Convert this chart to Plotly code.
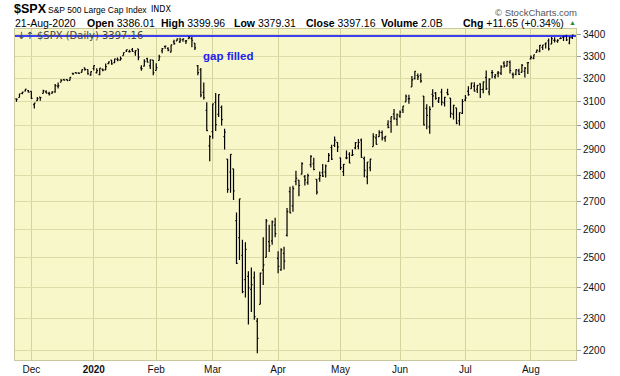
import pandas as pd
import plotly.graph_objects as go

# ---- data: S&P 500 daily OHLC, 22-Nov-2019 .. 21-Aug-2020 ----
holidays = ["2019-11-28", "2019-12-25", "2020-01-01", "2020-01-20",
            "2020-02-17", "2020-04-10", "2020-05-25", "2020-07-03"]
days = pd.bdate_range("2019-11-22", "2020-08-21")
dates = [d.strftime("%Y-%m-%d") for d in days if d.strftime("%Y-%m-%d") not in holidays]

opens = [
    3111.41, 3117.44, 3134.85, 3145.49, 3147.18,
    3143.85, 3087.41, 3103.50, 3119.21, 3134.62, 3141.86, 3135.36, 3135.75, 3141.23, 3166.65, 3183.63,
    3195.40, 3195.21, 3192.32, 3223.33, 3226.05, 3225.45, 3227.20, 3247.23, 3240.09, 3215.18,
    3244.67, 3226.36, 3217.55, 3241.86, 3238.59, 3266.03, 3281.81, 3271.13, 3285.35, 3282.27, 3302.97,
    3323.66, 3321.03, 3330.02, 3315.77, 3333.10, 3247.16, 3255.35, 3289.46, 3256.45, 3282.33,
    3235.66, 3280.61, 3324.91, 3344.92, 3335.54, 3318.28, 3365.87, 3370.50, 3365.90, 3378.08, 3369.04,
    3380.39, 3380.45, 3360.50, 3257.61, 3238.94, 3139.90, 3062.54, 2916.90,
    2974.28, 3096.46, 3045.75, 3075.70, 2954.20, 2863.89, 2813.48, 2825.60, 2630.86, 2569.99, 2508.59,
    2425.66, 2436.50, 2393.48, 2431.94, 2290.71, 2344.44, 2457.77, 2501.29, 2555.87, 2558.98, 2614.69,
    2498.08, 2458.54, 2514.92, 2578.28, 2738.65, 2685.00, 2776.99, 2782.46, 2805.10, 2795.64, 2772.21,
    2842.43, 2845.62, 2784.81, 2787.89, 2810.42, 2812.64, 2854.65, 2909.96, 2918.46, 2930.91,
    2869.09, 2815.01, 2868.88, 2883.14, 2878.26, 2908.83, 2915.46, 2939.50, 2865.86, 2794.54, 2829.95,
    2913.86, 2948.59, 2953.63, 2969.95, 2948.05, 3004.08, 3015.65, 3046.61, 3025.17,
    3038.78, 3064.78, 3098.90, 3111.56, 3163.84, 3199.92, 3213.32, 3213.42, 3123.53, 3071.04, 2993.76,
    3131.00, 3136.13, 3101.64, 3140.29, 3094.42, 3138.70, 3114.40, 3046.60, 3073.20, 3018.59, 3050.20,
    3105.92, 3143.64, 3155.29, 3166.44, 3153.07, 3176.17, 3152.47, 3205.08, 3141.11, 3225.98, 3208.36,
    3224.21, 3224.29, 3268.52, 3254.86, 3271.64, 3218.58, 3219.84, 3234.27, 3227.22, 3231.76, 3270.45,
    3288.26, 3289.92, 3317.37, 3323.17, 3340.05, 3356.04, 3370.34, 3355.46, 3372.95, 3368.66, 3380.86,
    3387.04, 3392.51, 3360.48, 3386.01,
]
highs = [
    3112.87, 3133.83, 3142.69, 3154.26, 3150.30,
    3144.31, 3094.97, 3119.38, 3119.45, 3150.60, 3148.87, 3142.12, 3143.98, 3176.28, 3182.68, 3197.71,
    3198.22, 3198.48, 3205.48, 3225.65, 3227.78, 3226.43, 3240.08, 3247.93, 3240.92, 3231.72,
    3258.14, 3246.15, 3246.84, 3244.91, 3267.07, 3275.58, 3282.99, 3288.13, 3294.25, 3298.66, 3317.11,
    3329.88, 3329.79, 3337.77, 3326.88, 3333.18, 3258.85, 3285.78, 3293.47, 3285.91, 3282.33,
    3268.44, 3306.92, 3337.58, 3347.96, 3341.42, 3352.26, 3375.63, 3381.47, 3385.09, 3380.69, 3375.01,
    3393.52, 3389.15, 3360.76, 3259.81, 3246.99, 3182.51, 3097.07, 2959.72,
    3090.96, 3136.72, 3130.97, 3083.04, 2985.93, 2863.89, 2882.59, 2825.60, 2660.95, 2711.33, 2562.98,
    2553.93, 2453.57, 2466.97, 2453.01, 2300.73, 2449.71, 2571.42, 2637.01, 2615.91, 2631.80, 2641.39,
    2522.75, 2533.22, 2538.18, 2676.85, 2756.89, 2760.75, 2818.57, 2782.46, 2851.85, 2801.88, 2806.51,
    2879.22, 2868.98, 2785.54, 2815.10, 2844.90, 2842.71, 2887.72, 2921.15, 2954.86, 2930.91,
    2869.09, 2844.24, 2898.23, 2891.11, 2901.92, 2932.16, 2944.25, 2945.82, 2874.14, 2852.80, 2865.01,
    2968.09, 2964.21, 2980.29, 2978.50, 2956.76, 3021.72, 3036.25, 3068.67, 3049.17,
    3062.18, 3081.07, 3130.94, 3128.91, 3211.72, 3233.13, 3222.71, 3223.27, 3123.53, 3088.42, 3079.76,
    3153.45, 3141.16, 3120.00, 3155.53, 3120.92, 3154.90, 3115.01, 3086.25, 3073.73, 3053.89, 3111.51,
    3128.44, 3165.81, 3182.59, 3184.15, 3171.80, 3179.78, 3186.82, 3235.32, 3200.95, 3238.28, 3220.39,
    3233.52, 3258.61, 3277.29, 3279.32, 3279.99, 3227.26, 3241.43, 3243.72, 3264.74, 3250.92, 3272.17,
    3302.73, 3306.84, 3330.77, 3351.03, 3352.54, 3363.29, 3381.01, 3387.89, 3387.24, 3378.51, 3387.59,
    3395.06, 3399.54, 3390.80, 3399.96,
]
lows = [
    3099.26, 3117.44, 3131.00, 3143.41, 3139.34,
    3110.78, 3070.33, 3102.53, 3103.76, 3134.62, 3135.46, 3126.09, 3133.21, 3138.47, 3156.51, 3183.63,
    3191.03, 3191.14, 3191.72, 3216.03, 3222.30, 3220.51, 3227.20, 3234.37, 3216.57, 3212.03,
    3235.53, 3222.34, 3214.64, 3232.43, 3236.67, 3263.67, 3260.86, 3268.43, 3277.19, 3280.69, 3302.82,
    3318.86, 3316.61, 3320.04, 3301.87, 3281.53, 3234.50, 3253.22, 3271.89, 3242.80, 3214.68,
    3235.66, 3280.61, 3313.75, 3334.39, 3322.12, 3317.77, 3352.72, 3369.72, 3360.52, 3366.15, 3355.61,
    3378.83, 3341.02, 3328.45, 3214.65, 3118.77, 3108.99, 2977.39, 2855.84,
    2945.19, 2976.63, 3034.38, 2999.83, 2901.54, 2734.43, 2734.00, 2707.22, 2478.86, 2492.37, 2380.94,
    2367.04, 2280.52, 2319.78, 2295.56, 2191.86, 2344.44, 2407.53, 2500.72, 2520.02, 2545.28, 2571.15,
    2447.49, 2455.79, 2459.96, 2574.57, 2657.67, 2663.30, 2762.36, 2721.17, 2805.10, 2761.54, 2764.32,
    2830.88, 2820.43, 2727.10, 2775.95, 2794.26, 2791.76, 2852.89, 2860.71, 2912.16, 2892.47,
    2821.61, 2797.85, 2863.55, 2847.65, 2876.48, 2902.88, 2903.44, 2869.59, 2793.15, 2766.64, 2816.78,
    2913.86, 2922.35, 2953.63, 2938.57, 2933.59, 2988.17, 2969.75, 3023.40, 2998.61,
    3031.54, 3051.64, 3098.90, 3090.41, 3163.84, 3196.00, 3193.11, 3181.49, 2999.49, 2984.47, 2965.66,
    3076.06, 3108.03, 3093.51, 3083.11, 3079.39, 3127.12, 3032.13, 3024.01, 3004.63, 2999.74, 3047.83,
    3101.17, 3124.52, 3155.29, 3142.93, 3136.53, 3115.70, 3136.22, 3149.43, 3127.66, 3200.76, 3198.59,
    3205.65, 3215.16, 3247.77, 3253.10, 3222.66, 3200.05, 3214.25, 3216.17, 3227.22, 3204.13, 3220.26,
    3284.53, 3286.37, 3317.37, 3318.14, 3328.72, 3335.44, 3326.44, 3355.46, 3363.35, 3361.64, 3379.22,
    3370.15, 3369.66, 3354.69, 3379.31,
]
closes = [
    3110.29, 3133.64, 3140.52, 3153.63, 3140.98,
    3113.87, 3093.20, 3112.76, 3117.43, 3145.91, 3135.96, 3132.52, 3141.63, 3168.57, 3168.80, 3191.45,
    3192.52, 3191.14, 3205.37, 3221.22, 3224.01, 3223.38, 3239.91, 3240.02, 3221.29, 3230.78,
    3257.85, 3234.85, 3246.28, 3237.18, 3253.05, 3274.70, 3265.35, 3288.13, 3283.15, 3289.29, 3316.81,
    3329.62, 3320.79, 3321.75, 3325.54, 3295.47, 3243.63, 3276.24, 3273.40, 3283.66, 3225.52,
    3248.92, 3297.59, 3334.69, 3345.78, 3327.71, 3352.09, 3357.75, 3379.45, 3373.94, 3380.16, 3370.29,
    3386.15, 3373.23, 3337.75, 3225.89, 3128.21, 3116.39, 2978.76, 2954.22,
    3090.23, 3003.37, 3130.12, 3023.94, 2972.37, 2746.56, 2882.23, 2741.38, 2480.64, 2711.02, 2386.13,
    2529.19, 2398.10, 2409.39, 2304.92, 2237.40, 2447.33, 2475.56, 2630.07, 2541.47, 2626.65, 2584.59,
    2470.50, 2526.90, 2488.65, 2663.68, 2659.41, 2749.98, 2789.82, 2761.63, 2846.06, 2783.36, 2799.55,
    2874.56, 2823.16, 2736.56, 2799.31, 2797.80, 2836.74, 2878.48, 2863.39, 2939.51, 2912.43,
    2830.71, 2842.74, 2868.44, 2848.42, 2881.19, 2929.80, 2930.32, 2870.12, 2820.00, 2852.50, 2863.70,
    2953.91, 2922.94, 2971.61, 2948.51, 2955.45, 2991.77, 3036.13, 3029.73, 3044.31,
    3055.73, 3080.82, 3122.87, 3112.35, 3193.93, 3232.39, 3207.18, 3190.14, 3002.10, 3041.31, 3066.59,
    3124.74, 3113.49, 3115.34, 3097.74, 3117.86, 3131.29, 3050.33, 3083.76, 3009.05, 3053.24, 3100.29,
    3115.86, 3130.01, 3179.72, 3145.32, 3169.94, 3152.05, 3185.04, 3155.22, 3197.52, 3226.56, 3215.57,
    3224.73, 3251.84, 3257.30, 3276.02, 3235.66, 3215.63, 3239.41, 3218.44, 3258.44, 3246.22, 3271.12,
    3294.61, 3306.51, 3327.77, 3349.16, 3351.28, 3360.47, 3333.69, 3380.35, 3373.43, 3372.85, 3381.99,
    3389.78, 3374.85, 3385.51, 3397.16,
]

month_ticks = ["2019-12-02", "2020-01-02", "2020-02-03", "2020-03-02", "2020-04-01",
               "2020-05-01", "2020-06-01", "2020-07-01", "2020-08-03"]
month_labels = ["Dec", "<b>2020</b>", "Feb", "Mar", "Apr", "May", "Jun", "Jul", "Aug"]
price_ticks = [2200, 2300, 2400, 2500, 2600, 2700, 2800, 2900, 3000, 3100, 3200, 3300, 3400]
hline_level = 3393.52

# ---- figure ----
W, H = 620, 376
L, R, T, B = 15, 576, 29, 360


def px(x):
    return (x - L) / (R - L)


def py(y):
    return (B - y) / (B - T)


fig = go.Figure(go.Ohlc(
    x=dates, open=opens, high=highs, low=lows, close=closes,
    increasing=dict(line=dict(color="#000000", width=1.2)),
    decreasing=dict(line=dict(color="#000000", width=1.2)),
    tickwidth=0.4, hoverinfo="skip", showlegend=False,
))

fig.add_shape(type="line", xref="paper", x0=0, x1=1, yref="y", y0=hline_level, y1=hline_level,
              line=dict(color="#0000FF", width=1.5), layer="above")

AR = "Liberation Sans, Arial, sans-serif"
ann = []


def txt(x, y, text, size, color="#000", family=AR, xanchor="left"):
    ann.append(dict(xref="paper", yref="paper", x=px(x), y=py(y), text=text, showarrow=False,
                    xanchor=xanchor, yanchor="middle", borderpad=0,
                    font=dict(size=size, color=color, family=family)))


txt(13, 9, "<b>$SPX</b>", 12.5)
txt(47, 9.5, "S&P 500 Large Cap Index", 8.5)
txt(150, 10, "INDX", 8, family="DejaVu Sans, sans-serif")
txt(578, 13, "© StockCharts.com", 9.5, color="#555", xanchor="right")
txt(14, 23.5, "21-Aug-2020", 10.5)
txt(86, 23.5, "<b>Open</b> 3386.01", 10.5)
txt(160, 23.5, "<b>High</b> 3399.96", 10.5)
txt(233, 23.5, "<b>Low</b> 3379.31", 10.5)
txt(305, 23.5, "<b>Close</b> 3397.16", 10.5)
txt(380, 23.5, "<b>Volume</b> 2.0B", 10.5)
txt(462, 23.5, "<b>Chg</b> +11.65 (+0.34%)", 10.5)
txt(568, 22.5, "▲", 7, color="#2E8B3A")
txt(16, 35.5, "↓↑ $SPX (Daily) 3397.16", 10, color="#444", family="DejaVu Sans, sans-serif")
txt(227.5, 56, "<b>gap filled</b>", 11.5, color="#2222EE", xanchor="center")

fig.update_layout(
    width=W, height=H,
    margin=dict(l=L, r=W - R, t=T, b=H - B, pad=0),
    paper_bgcolor="#FFFFFF", plot_bgcolor="#F8F7C9",
    annotations=ann, showlegend=False,
    xaxis=dict(type="category", range=[-0.5, 188.2], rangeslider=dict(visible=False),
               tickmode="array", tickvals=month_ticks, ticktext=month_labels,
               showgrid=True, gridcolor="#D2D49E", gridwidth=1, ticks="", automargin=False,
               tickfont=dict(size=10, color="#111", family=AR),
               showline=True, linecolor="#C8C89C", mirror=True, zeroline=False),
    yaxis=dict(type="log", side="right", range=[3.33675, 3.53479], automargin=False,
               tickmode="array", tickvals=price_ticks, ticktext=[str(v) for v in price_ticks],
               showgrid=True, gridcolor="#DCDCA8", gridwidth=1,
               ticks="outside", ticklen=4, tickcolor="#9A9A9A",
               tickfont=dict(size=10, color="#111", family=AR),
               showline=True, linecolor="#C8C89C", mirror=True, zeroline=False),
)

fig.write_html("out.html", config={"displayModeBar": False},
               post_script="document.body.style.margin='0';document.body.style.overflow='hidden';")
